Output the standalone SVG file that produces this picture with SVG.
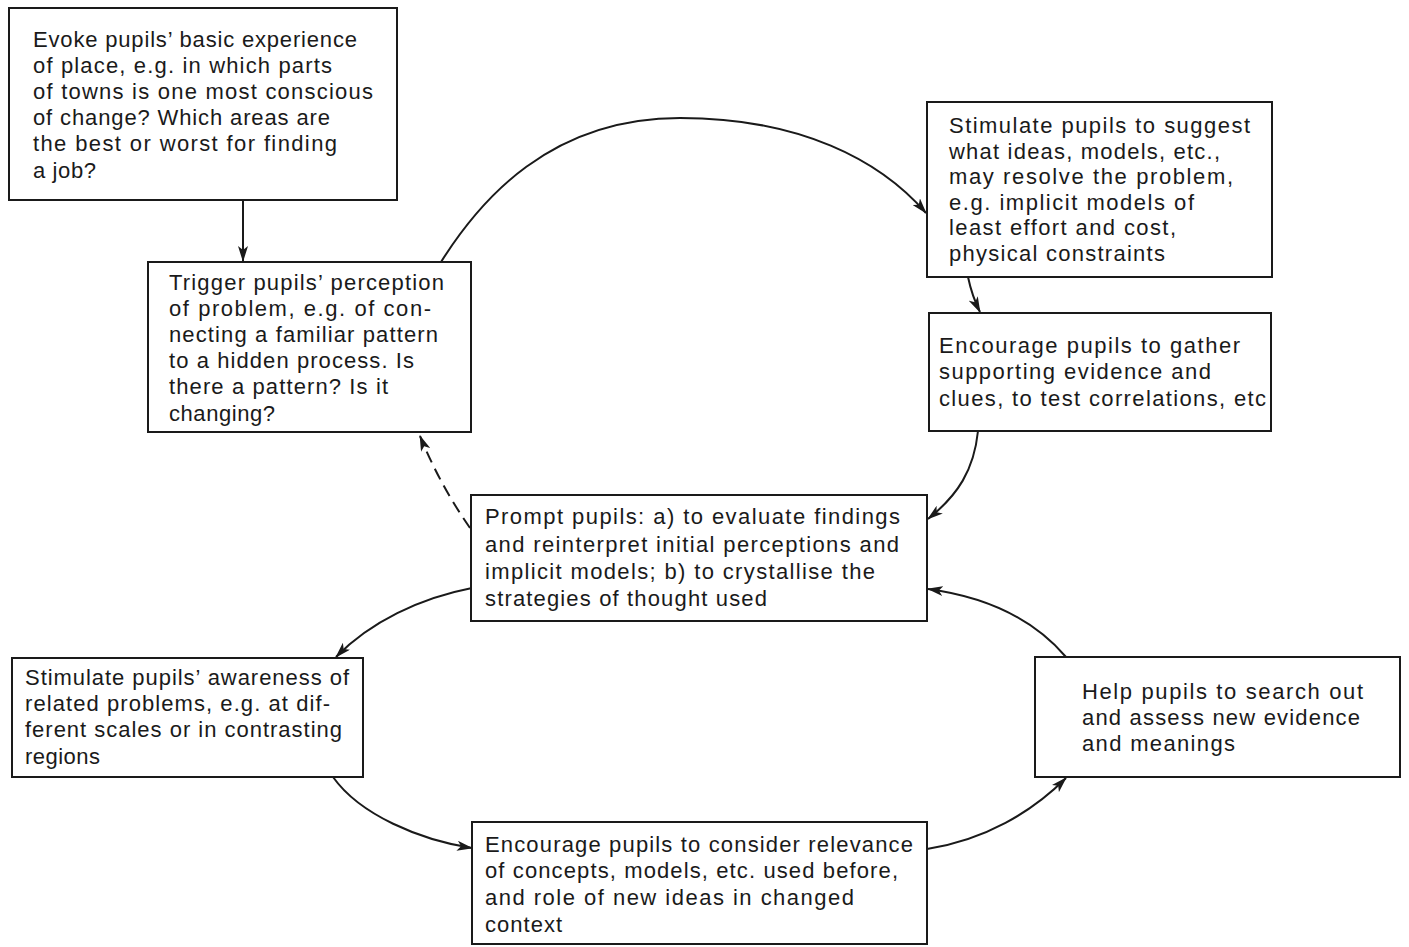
<svg xmlns="http://www.w3.org/2000/svg" width="1409" height="947" viewBox="0 0 1409 947">
  <style>
    .box { fill: #ffffff; stroke: #1a1a1a; stroke-width: 2; }
    .lbl { font-family: "Liberation Sans", Arial, sans-serif; font-size: 22px; fill: #1a1a1a; }
    .link { fill: none; stroke: #1a1a1a; stroke-width: 2; marker-end: url(#arrow); }
    .dashed { stroke-dasharray: 12 7; }
  </style>
  <defs>
    <marker id="arrow" viewBox="0 0 16 10" refX="15" refY="5" markerWidth="16" markerHeight="10" markerUnits="userSpaceOnUse" orient="auto">
      <path d="M0,0 L16,5 L0,10 L4,5 Z" fill="#1a1a1a"/>
    </marker>
  </defs>
  <rect width="1409" height="947" fill="#ffffff"/>

  <!-- connectors -->
  <g id="connectors">
    <path class="link" d="M243,200 L243,261"/>
    <path class="link" d="M441,262 C480,200 550,118 680,118 C800,118 880,160 926,213"/>
    <path class="link" d="M968,277 Q972,296 980,312"/>
    <path class="link" d="M978,431 C974,470 958,495 928,519"/>
    <path class="link dashed" d="M470,528 Q440,485 420,436"/>
    <path class="link" d="M472,588 C420,598 370,622 336,657"/>
    <path class="link" d="M333,777 C360,815 420,840 472,848"/>
    <path class="link" d="M927,849 C985,840 1032,812 1066,778"/>
    <path class="link" d="M1066,657 C1030,615 980,596 928,589"/>
  </g>

  <!-- nodes -->
  <g id="evoke">
    <rect class="box" x="9" y="8" width="388" height="192"/>
    <text class="lbl" lengthAdjust="spacing">
      <tspan x="33" y="47" textLength="324">Evoke pupils’ basic experience</tspan>
      <tspan x="33" y="73" textLength="299">of place, e.g. in which parts</tspan>
      <tspan x="33" y="99" textLength="340">of towns is one most conscious</tspan>
      <tspan x="33" y="125" textLength="297">of change? Which areas are</tspan>
      <tspan x="33" y="151" textLength="304">the best or worst for finding</tspan>
      <tspan x="33" y="178" textLength="63">a job?</tspan>
    </text>
  </g>

  <g id="trigger">
    <rect class="box" x="148" y="262" width="323" height="170"/>
    <text class="lbl" lengthAdjust="spacing">
      <tspan x="169" y="290" textLength="275">Trigger pupils’ perception</tspan>
      <tspan x="169" y="316" textLength="262">of problem, e.g. of con-</tspan>
      <tspan x="169" y="342" textLength="269">necting a familiar pattern</tspan>
      <tspan x="169" y="368" textLength="245">to a hidden process. Is</tspan>
      <tspan x="169" y="394" textLength="219">there a pattern? Is it</tspan>
      <tspan x="169" y="421" textLength="106">changing?</tspan>
    </text>
  </g>

  <g id="suggest">
    <rect class="box" x="927" y="102" width="345" height="175"/>
    <text class="lbl" lengthAdjust="spacing">
      <tspan x="949" y="133" textLength="301">Stimulate pupils to suggest</tspan>
      <tspan x="949" y="159" textLength="271">what ideas, models, etc.,</tspan>
      <tspan x="949" y="184" textLength="284">may resolve the problem,</tspan>
      <tspan x="949" y="210" textLength="245">e.g. implicit models of</tspan>
      <tspan x="949" y="235" textLength="227">least effort and cost,</tspan>
      <tspan x="949" y="261" textLength="216">physical constraints</tspan>
    </text>
  </g>

  <g id="gather">
    <rect class="box" x="929" y="313" width="342" height="118"/>
    <text class="lbl" lengthAdjust="spacing">
      <tspan x="939" y="353" textLength="301">Encourage pupils to gather</tspan>
      <tspan x="939" y="379" textLength="272">supporting evidence and</tspan>
      <tspan x="939" y="406" textLength="327">clues, to test correlations, etc</tspan>
    </text>
  </g>

  <g id="prompt">
    <rect class="box" x="471" y="495" width="456" height="126"/>
    <text class="lbl" lengthAdjust="spacing">
      <tspan x="485" y="524" textLength="415">Prompt pupils: a) to evaluate findings</tspan>
      <tspan x="485" y="552" textLength="414">and reinterpret initial perceptions and</tspan>
      <tspan x="485" y="579" textLength="390">implicit models; b) to crystallise the</tspan>
      <tspan x="485" y="606" textLength="282">strategies of thought used</tspan>
    </text>
  </g>

  <g id="awareness">
    <rect class="box" x="12" y="658" width="351" height="119"/>
    <text class="lbl" lengthAdjust="spacing">
      <tspan x="25" y="685" textLength="324">Stimulate pupils’ awareness of</tspan>
      <tspan x="25" y="711" textLength="305">related problems, e.g. at dif-</tspan>
      <tspan x="25" y="737" textLength="317">ferent scales or in contrasting</tspan>
      <tspan x="25" y="764" textLength="75">regions</tspan>
    </text>
  </g>

  <g id="search">
    <rect class="box" x="1035" y="657" width="365" height="120"/>
    <text class="lbl" lengthAdjust="spacing">
      <tspan x="1082" y="699" textLength="281">Help pupils to search out</tspan>
      <tspan x="1082" y="725" textLength="278">and assess new evidence</tspan>
      <tspan x="1082" y="751" textLength="153">and meanings</tspan>
    </text>
  </g>

  <g id="relevance">
    <rect class="box" x="472" y="822" width="455" height="122"/>
    <text class="lbl" lengthAdjust="spacing">
      <tspan x="485" y="852" textLength="428">Encourage pupils to consider relevance</tspan>
      <tspan x="485" y="878" textLength="413">of concepts, models, etc. used before,</tspan>
      <tspan x="485" y="905" textLength="369">and role of new ideas in changed</tspan>
      <tspan x="485" y="932" textLength="77">context</tspan>
    </text>
  </g>
</svg>
